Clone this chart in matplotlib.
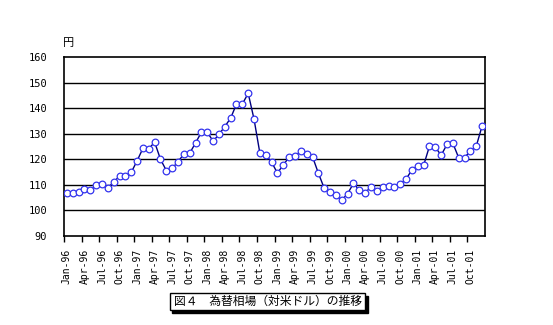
import matplotlib
matplotlib.use('Agg')
import matplotlib.pyplot as plt
from matplotlib.patches import Rectangle

plt.rcParams['font.family'] = ['Noto Sans CJK JP', 'DejaVu Sans']

# 月次の円相場（円／ドル）1996年1月〜2001年12月
months = ['Jan', 'Feb', 'Mar', 'Apr', 'May', 'Jun',
          'Jul', 'Aug', 'Sep', 'Oct', 'Nov', 'Dec']
years = ['96', '97', '98', '99', '00', '01']
rates = [107.0, 107.0, 107.1, 108.5, 107.8, 110.0, 110.5, 108.9, 111.0, 113.5, 113.5, 114.9,
         119.4, 124.3, 124.1, 126.7, 120.0, 115.6, 116.4, 119.1, 122.0, 122.4, 126.4, 130.6,
         130.6, 127.1, 129.7, 132.8, 136.1, 141.6, 141.6, 145.8, 135.7, 122.4, 121.7, 118.9,
         114.6, 117.8, 120.8, 121.1, 123.3, 122.0, 121.0, 114.6, 108.7, 107.2, 105.9, 104.0,
         106.5, 110.6, 107.9, 106.8, 109.3, 107.5, 109.1, 109.5, 109.1, 110.4, 112.2, 115.9,
         117.4, 117.6, 125.1, 124.7, 121.6, 125.8, 126.3, 120.6, 120.6, 123.3, 125.1, 133.0]
labels = [m + '-' + y for y in years for m in months]
y_ticks = [90, 100, 110, 120, 130, 140, 150, 160]
title = '図４　為替相場（対米ドル）の推移'

fig = plt.figure(figsize=(5.53, 3.25), dpi=100)
ax = fig.add_axes([64/553, 1-236/325, 421/553, 179/325])

x = list(range(len(rates)))
ax.plot(x, rates, color='#000080', lw=1.0, zorder=3)
ax.plot(x, rates, ls='none', marker='o', ms=4.8, mfc='white',
        mec='#3333ee', mew=0.9, zorder=4)

ax.set_xlim(-0.5, len(rates)-0.5)
ax.set_ylim(90, 160)
ax.set_yticks(y_ticks)
ax.set_yticklabels([str(v) for v in y_ticks], family='DejaVu Sans Mono', fontsize=7.5)
ax.tick_params(axis='y', length=0, pad=12)
for v in y_ticks[1:-1]:
    ax.axhline(v, color='black', lw=1.0, zorder=1)

# 目盛線は区切り位置、ラベルは3か月ごとの中央
ax.set_xticks([i - 0.5 for i in range(0, len(rates), 3)])
ax.set_xticklabels([])
ax.tick_params(axis='x', which='major', length=4, direction='out', width=1)
ax.set_xticks(list(range(0, len(rates), 3)), minor=True)
ax.set_xticklabels(labels[::3], minor=True, rotation=90,
                   family='DejaVu Sans Mono', fontsize=7)
ax.tick_params(axis='x', which='minor', length=0, pad=9)

for s in ax.spines.values():
    s.set_linewidth(1.2)

fig.text(63/553, 1-43/325, '円', fontsize=8, ha='left', va='center')

# タイトルの枠（影付き）
bx, by, bw, bh = 170/553, 1-310/325, 195/553, 17/325
fig.patches.append(Rectangle((bx+2.5/553, by-2.5/325), bw, bh, transform=fig.transFigure,
                             facecolor='black', edgecolor='black', lw=1))
fig.patches.append(Rectangle((bx, by), bw, bh, transform=fig.transFigure,
                             facecolor='white', edgecolor='black', lw=1))
fig.text(bx + bw/2, by + bh/2, title, fontsize=8.5, ha='center', va='center')

fig.savefig('out.png', dpi=100)
